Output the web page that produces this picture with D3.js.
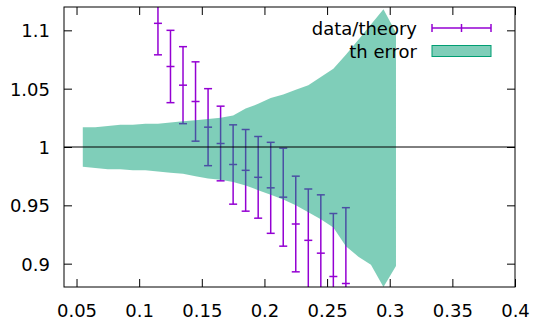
<!DOCTYPE html>
<html lang="en">
<head>
  <meta charset="UTF-8">
  <title>data/theory with th error band</title>
  <script src="https://d3js.org/d3.v7.min.js"></script>
  <style>
    body { margin:0; background:#fff; overflow:hidden; }
    svg { display:block; }
    text { font-family: "DejaVu Sans", sans-serif; font-size: 18px; fill:#000; }
  </style>
</head>
<body>
  <script>
    // data points (bin centres), ratio data/theory and its error
    const dataX   = [0.115, 0.125, 0.135, 0.145, 0.155, 0.165, 0.175, 0.185,
                     0.195, 0.205, 0.215, 0.225, 0.235, 0.245, 0.255, 0.265];
    const dataY   = [1.106, 1.069, 1.053, 1.039, 1.017, 1.003, 0.985, 0.980,
                     0.974, 0.965, 0.957, 0.934, 0.920, 0.909, 0.889, 0.883];
    const dataErr = [0.027, 0.031, 0.033, 0.034, 0.033, 0.032, 0.034, 0.035,
                     0.035, 0.039, 0.042, 0.041, 0.044, 0.050, 0.054, 0.065];

    // theory error band
    const bandX  = [0.055, 0.065, 0.075, 0.085, 0.095, 0.105, 0.115, 0.125, 0.135,
                    0.145, 0.155, 0.165, 0.175, 0.185, 0.195, 0.205, 0.215, 0.225,
                    0.235, 0.245, 0.255, 0.265, 0.275, 0.285, 0.295, 0.305];
    const bandHi = [1.017, 1.017, 1.018, 1.019, 1.019, 1.020, 1.020, 1.021, 1.022,
                    1.023, 1.024, 1.025, 1.027, 1.033, 1.037, 1.042, 1.045, 1.049,
                    1.053, 1.060, 1.067, 1.079, 1.092, 1.105, 1.118, 1.098];
    const bandLo = [0.983, 0.982, 0.981, 0.981, 0.980, 0.980, 0.979, 0.978, 0.977,
                    0.975, 0.973, 0.972, 0.970, 0.967, 0.963, 0.959, 0.955, 0.950,
                    0.944, 0.938, 0.931, 0.915, 0.906, 0.899, 0.880, 0.898];

    const xTicks = [0.05, 0.1, 0.15, 0.2, 0.25, 0.3, 0.35, 0.4];
    const yTicks = [0.9, 0.95, 1, 1.05, 1.1];
    const legendLabels = ["data/theory", "th error"];

    const width = 535, height = 321;
    const mLeft = 64, mRight = 515, mTop = 7, mBottom = 287;

    const x = d3.scaleLinear().domain([0.04, 0.4]).range([mLeft, mRight]);
    const y = d3.scaleLinear().domain([0.88, 1.12]).range([mBottom, mTop]);

    const purple = "#9400d3";
    const teal = "#009e73";

    const svg = d3.select("body").append("svg")
      .attr("width", width).attr("height", height);

    svg.append("clipPath").attr("id", "plot")
      .append("rect")
        .attr("x", mLeft).attr("y", mTop)
        .attr("width", mRight - mLeft).attr("height", mBottom - mTop);

    const plot = svg.append("g").attr("clip-path", "url(#plot)");

    // error bars
    const pts = dataX.map((v, i) => ({x: v, y: dataY[i], e: dataErr[i]}));
    const cap = 4;
    const bars = plot.append("g")
      .attr("stroke", purple).attr("stroke-width", 1.5).attr("fill", "none");
    pts.forEach(d => {
      const px = x(d.x);
      const g = bars.append("g");
      g.append("line").attr("x1", px).attr("x2", px)
        .attr("y1", y(d.y - d.e)).attr("y2", y(d.y + d.e));
      [d.y - d.e, d.y + d.e, d.y].forEach(v => {
        g.append("line").attr("x1", px - cap).attr("x2", px + cap)
          .attr("y1", y(v)).attr("y2", y(v));
      });
    });

    // legend text (band is painted over it)
    const legX = 417, legY = [28, 51];
    svg.selectAll("text.leg")
      .data(legendLabels)
      .enter().append("text")
        .attr("class", "leg")
        .attr("x", legX)
        .attr("y", (d, i) => legY[i] + 6.5)
        .attr("text-anchor", "end")
        .text(d => d);

    // band
    const area = d3.area()
      .x((d, i) => x(bandX[i]))
      .y0((d, i) => y(bandLo[i]))
      .y1((d, i) => y(bandHi[i]));
    plot.append("path")
      .datum(bandX)
      .attr("d", area)
      .attr("fill", teal)
      .attr("fill-opacity", 0.5);

    // line at ratio 1
    svg.append("line")
      .attr("x1", mLeft).attr("x2", mRight)
      .attr("y1", y(1)).attr("y2", y(1))
      .attr("stroke", "#000").attr("stroke-width", 1);

    // legend samples
    const s0 = 432, s1 = 491;
    const ls = svg.append("g").attr("stroke", purple).attr("stroke-width", 1.5);
    ls.append("line").attr("x1", s0).attr("x2", s1).attr("y1", legY[0]).attr("y2", legY[0]);
    [s0, (s0 + s1) / 2, s1].forEach(px => {
      ls.append("line").attr("x1", px).attr("x2", px)
        .attr("y1", legY[0] - cap).attr("y2", legY[0] + cap);
    });
    svg.append("rect")
      .attr("x", s0).attr("y", legY[1] - 5.5)
      .attr("width", s1 - s0).attr("height", 11)
      .attr("fill", teal).attr("fill-opacity", 0.5)
      .attr("stroke", teal).attr("stroke-width", 1);

    // axes: gnuplot style inward ticks on all four sides
    const tl = 8;
    const axes = svg.append("g");
    axes.append("g")
      .attr("transform", `translate(0,${mBottom})`)
      .call(d3.axisBottom(x).tickValues(xTicks).tickSize(-tl).tickFormat(d3.format("")))
      .call(g => g.selectAll("text").attr("dy", null).attr("y", 30));
    axes.append("g")
      .attr("transform", `translate(0,${mTop})`)
      .call(d3.axisTop(x).tickValues(xTicks).tickSize(-tl).tickFormat(""));
    axes.append("g")
      .attr("transform", `translate(${mLeft},0)`)
      .call(d3.axisLeft(y).tickValues(yTicks).tickSize(-tl).tickFormat(d3.format("")))
      .call(g => g.selectAll("text").attr("x", -14).attr("dy", "0.36em"));
    axes.append("g")
      .attr("transform", `translate(${mRight},0)`)
      .call(d3.axisRight(y).tickValues(yTicks).tickSize(-tl).tickFormat(""));
    axes.selectAll(".domain").remove();
    axes.selectAll("text")
      .attr("font-family", "DejaVu Sans, sans-serif")
      .attr("font-size", 18)
      .attr("fill", "#000");
    axes.selectAll(".tick line").attr("stroke", "#000");

    svg.append("rect")
      .attr("x", mLeft).attr("y", mTop)
      .attr("width", mRight - mLeft).attr("height", mBottom - mTop)
      .attr("fill", "none").attr("stroke", "#000").attr("stroke-width", 1);
  </script>
</body>
</html>
